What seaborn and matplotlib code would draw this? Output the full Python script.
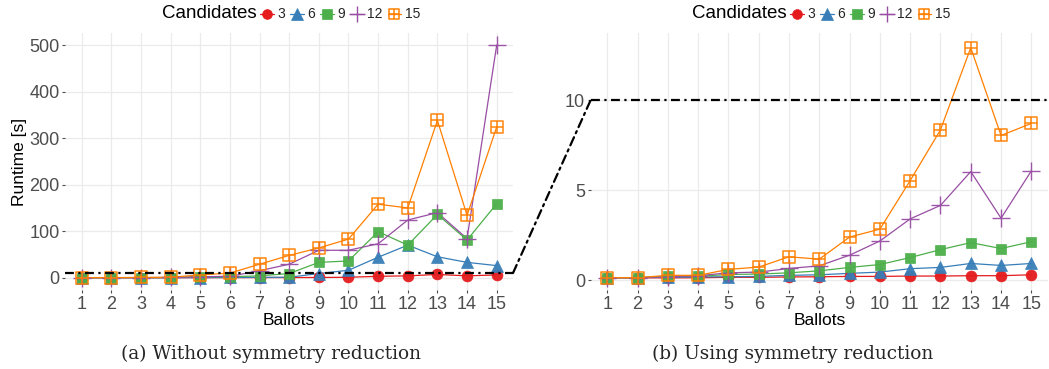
import matplotlib
matplotlib.use("Agg")
import matplotlib.pyplot as plt
import numpy as np
import pandas as pd
import seaborn as sns
from matplotlib.path import Path
from matplotlib.lines import Line2D
from matplotlib.patches import ConnectionPatch

# ---------------- data ----------------
ballots = [1, 2, 3, 4, 5, 6, 7, 8, 9, 10, 11, 12, 13, 14, 15]
candidates = [3, 6, 9, 12, 15]

# (a) without symmetry reduction, runtime in seconds
left_c3 = [0.1, 0.1, 0.1, 0.1, 0.2, 0.2, 0.3, 0.4, 0.5, 1, 3, 4, 7, 4, 6]
left_c6 = [0.1, 0.1, 0.1, 0.2, 0.3, 0.5, 0.8, 1, 9, 16, 44, 70, 45, 33, 26]
left_c9 = [0.1, 0.1, 0.2, 0.3, 2, 2, 4, 9, 33, 36, 99, 70, 136, 81, 159]
left_c12 = [0.1, 0.2, 0.3, 0.5, 2, 3, 15, 29, 59, 59, 73, 124, 140, 84, 500]
left_c15 = [0.2, 0.3, 0.5, 1, 6, 10, 29, 48, 64, 83, 158, 150, 338, 134, 324]

# (b) using symmetry reduction, runtime in seconds
right_c3 = [0.12, 0.12, 0.12, 0.12, 0.15, 0.15, 0.17, 0.18, 0.2, 0.2, 0.22, 0.22, 0.24, 0.24, 0.29]
right_c6 = [0.13, 0.13, 0.15, 0.17, 0.18, 0.2, 0.26, 0.29, 0.37, 0.44, 0.63, 0.7, 0.92, 0.81, 0.92]
right_c9 = [0.13, 0.13, 0.2, 0.2, 0.31, 0.33, 0.4, 0.51, 0.7, 0.86, 1.25, 1.69, 2.08, 1.75, 2.13]
right_c12 = [0.13, 0.13, 0.18, 0.24, 0.4, 0.44, 0.64, 0.79, 1.38, 2.17, 3.4, 4.15, 6.03, 3.44, 6.07]
right_c15 = [0.13, 0.13, 0.26, 0.26, 0.59, 0.72, 1.29, 1.16, 2.39, 2.83, 5.53, 8.35, 12.92, 8.04, 8.71]

threshold = 10
left_yticks = [0, 100, 200, 300, 400, 500]
right_yticks = [0, 5, 10]
x_label = "Ballots"
y_label = "Runtime [s]"
legend_title = "Candidates"
captions = ["(a) Without symmetry reduction", "(b) Using symmetry reduction"]


def to_frame(series_list):
    frames = []
    for cand, vals in zip(candidates, series_list):
        frames.append(pd.DataFrame({"Ballots": ballots, "Runtime": vals, "Candidates": cand}))
    return pd.concat(frames, ignore_index=True)


left_df = to_frame([left_c3, left_c6, left_c9, left_c12, left_c15])
right_df = to_frame([right_c3, right_c6, right_c9, right_c12, right_c15])

# ---------------- style ----------------
sns.set_theme(style="whitegrid")
plt.rcParams["font.family"] = ["Liberation Sans", "DejaVu Sans"]
plt.rcParams["axes.edgecolor"] = "none"
plt.rcParams["grid.color"] = "#EBEBEB"
plt.rcParams["grid.linewidth"] = 0.9

palette = sns.color_palette("Set1", 5)
colors = dict(zip(candidates, palette))

box_plus = Path(
    [(-1, -1), (1, -1), (1, 1), (-1, 1), (-1, -1), (-1, 0), (1, 0), (0, -1), (0, 1)],
    [Path.MOVETO, Path.LINETO, Path.LINETO, Path.LINETO, Path.CLOSEPOLY,
     Path.MOVETO, Path.LINETO, Path.MOVETO, Path.LINETO],
)

marker_kw = {
    3: dict(marker="o", markersize=7.8, markeredgewidth=0.5),
    6: dict(marker="^", markersize=9, markeredgewidth=0.5),
    9: dict(marker="s", markersize=7.5, markeredgewidth=0.5),
    12: dict(marker="+", markersize=13, markeredgewidth=1.0),
    15: dict(marker=box_plus, markersize=8.5, markeredgewidth=1.1, markerfacecolor="none"),
}

W, H = 1049, 369
fig = plt.figure(figsize=(W / 100, H / 100), dpi=100)
ax_l = fig.add_axes([65.4 / W, 1 - 290 / H, (513 - 65.4) / W, 257 / H])
ax_r = fig.add_axes([590.6 / W, 1 - 290 / H, (1048 - 590.6) / W, 257 / H])


def draw(ax, df, ylim, yticks):
    # lines first (below all markers)
    for cand in candidates:
        sub = df[df["Candidates"] == cand]
        sns.lineplot(data=sub, x="Ballots", y="Runtime", color=colors[cand],
                     linewidth=0.9, errorbar=None, ax=ax, zorder=2)
    # then points
    for cand in candidates:
        sub = df[df["Candidates"] == cand]
        kw = dict(marker_kw[cand])
        kw.setdefault("markerfacecolor", colors[cand])
        sns.lineplot(data=sub, x="Ballots", y="Runtime", color=colors[cand],
                     linestyle="none", markeredgecolor=colors[cand],
                     errorbar=None, ax=ax, zorder=3, alpha=0.95, **kw)
    ax.axhline(threshold, color="black", linewidth=1.6,
               linestyle=(0, (4, 2, 1, 2)), zorder=4)
    ax.set_xlim(0.45, 15.55)
    ax.set_ylim(*ylim)
    ax.set_xticks(ballots)
    ax.set_yticks(yticks)
    ax.tick_params(axis="both", which="major", length=2.5, width=0.8,
                   color="#4D4D4D", labelcolor="#4D4D4D", labelsize=13, pad=1.5)
    ax.tick_params(axis="both", which="major", left=True, bottom=True)
    ax.grid(True, color="#EBEBEB", linewidth=0.9)
    ax.set_xlabel(x_label, fontsize=12.5, color="black", labelpad=0)
    for s in ax.spines.values():
        s.set_visible(False)


draw(ax_l, left_df, (-26.4, 526), left_yticks)
draw(ax_r, right_df, (-0.556, 13.74), right_yticks)
ax_l.set_ylabel(y_label, fontsize=12.5, color="black", labelpad=2)
ax_r.set_ylabel("")

# connector between the two threshold lines
con = ConnectionPatch(xyA=(15.55, threshold), coordsA=ax_l.transData,
                      xyB=(0.45, threshold), coordsB=ax_r.transData,
                      color="black", linewidth=1.6, linestyle=(0, (4, 2, 1, 2)))
con.set_clip_on(False)
fig.add_artist(con)

# legends
handles = []
for cand in candidates:
    kw = dict(marker_kw[cand])
    kw["markersize"] = kw["markersize"] * 0.9
    kw.setdefault("markerfacecolor", colors[cand])
    handles.append(Line2D([], [], color=colors[cand], linewidth=0.9,
                          markeredgecolor=colors[cand], **kw))
labels = [str(c) for c in candidates]

for dx in (0, 530):
    fig.text((257 + dx) / W, 1 - 14 / H, legend_title, ha="right", va="center",
             fontsize=13.5, color="black")
    leg = fig.legend(handles, labels, loc="center left",
                     bbox_to_anchor=((260 + dx) / W, 1 - 14.5 / H),
                     ncol=5, frameon=False, fontsize=10, handlelength=1.0,
                     handletextpad=0.25, columnspacing=0.35, borderpad=0,
                     borderaxespad=0)

# captions
fig.text(271 / W, 1 - 354 / H, captions[0], ha="center", va="center",
         fontsize=13.3, family=["DejaVu Serif"])
fig.text(793 / W, 1 - 354 / H, captions[1], ha="center", va="center",
         fontsize=13.3, family=["DejaVu Serif"])

fig.savefig("out.png", dpi=100, facecolor="white")
